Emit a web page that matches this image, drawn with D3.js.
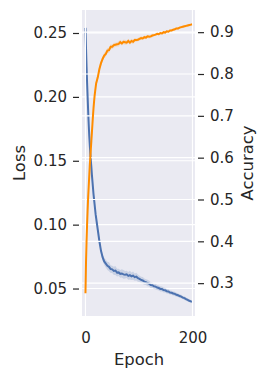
<!DOCTYPE html>
<html>
<head>
<meta charset="utf-8">
<script src="https://cdn.jsdelivr.net/npm/d3@7"></script>
<style>
  body { margin: 0; background: #fff; }
  svg text { font-family: "DejaVu Sans", sans-serif; fill: #262626; }
</style>
</head>
<body>
<div id="chart"></div>
<script>
// epochs sampled from the training log
const epochs = [0,1,2,3,4,5,6,7,8,9,10,11,12,13,14,15,16,17,18,19,20,
  23,26,29,32,35,38,41,44,47,50,53,56,59,62,65,68,71,74,77,80,83,86,89,92,95,98,
  101,104,107,110,113,116,119,122,125,128,131,134,137,140,143,146,149,152,155,158,
  161,164,167,170,173,176,179,182,185,188,191,194,197,199];

const loss = [0.254,0.238,0.224,0.211,0.200,0.189,0.179,0.170,0.163,0.156,0.150,0.145,0.139,0.134,0.129,0.124,0.120,0.116,0.112,0.108,0.105,
  0.096,0.087,0.0795,0.0745,0.0712,0.0695,0.0678,0.0670,0.0652,0.0650,0.0638,0.0641,0.0624,0.0626,0.0615,0.0618,0.0611,0.0608,0.0611,0.0599,0.0605,0.0596,0.0601,0.0589,0.0593,0.0582,
  0.0576,0.0567,0.0563,0.0554,0.0550,0.0543,0.0538,0.0527,0.0526,0.0517,0.0515,0.0508,0.0504,0.0497,0.0496,0.0488,0.0486,0.0479,0.0477,0.0469,
  0.0467,0.0461,0.0458,0.0451,0.0447,0.0441,0.0437,0.0429,0.0425,0.0417,0.0411,0.0404,0.0400,0.0396];

// half width of the shaded band around loss
const lossBand = [0.003,0.003,0.003,0.002,0.002,0.002,0.002,0.002,0.002,0.002,0.002,0.002,0.002,0.002,0.002,0.002,0.002,0.002,0.002,0.002,0.002,
  0.002,0.002,0.0022,0.0025,0.0028,0.003,0.0032,0.0035,0.003,0.0028,0.0032,0.0035,0.003,0.0028,0.003,0.0032,0.0035,0.003,0.0028,0.003,0.0034,0.003,0.0032,0.0028,0.003,0.0028,
  0.0025,0.0025,0.0027,0.0024,0.0022,0.0025,0.0022,0.0024,0.0022,0.0021,0.0023,0.002,0.0019,0.0021,0.0019,0.002,0.0018,0.0017,0.0018,0.0016,
  0.0016,0.0015,0.0016,0.0015,0.0014,0.0015,0.0014,0.0013,0.0014,0.0013,0.0012,0.0012,0.0011,0.001];

const accuracy = [0.276,0.35,0.40,0.44,0.475,0.505,0.53,0.555,0.58,0.60,0.62,0.64,0.66,0.68,0.70,0.718,0.733,0.747,0.758,0.768,0.778,
  0.792,0.812,0.826,0.836,0.844,0.848,0.856,0.857,0.865,0.865,0.869,0.870,0.871,0.872,0.876,0.873,0.877,0.876,0.875,0.879,0.875,0.879,0.877,0.881,0.881,0.882,
  0.884,0.886,0.885,0.888,0.887,0.890,0.889,0.890,0.892,0.893,0.894,0.896,0.895,0.898,0.897,0.900,0.899,0.902,0.901,0.904,
  0.904,0.906,0.907,0.909,0.909,0.911,0.912,0.913,0.914,0.915,0.916,0.917,0.918,0.919];

// half width of the shaded band around accuracy
const accBand = [0.026,0.02,0.018,0.016,0.014,0.013,0.012,0.012,0.011,0.011,0.01,0.01,0.01,0.01,0.01,0.009,0.009,0.009,0.008,0.008,0.008,
  0.008,0.007,0.007,0.007,0.006,0.007,0.006,0.006,0.006,0.005,0.006,0.005,0.005,0.006,0.005,0.005,0.005,0.006,0.005,0.005,0.005,0.005,0.005,0.005,0.004,0.004,
  0.004,0.004,0.004,0.004,0.004,0.004,0.004,0.004,0.004,0.003,0.003,0.003,0.003,0.003,0.003,0.003,0.003,0.003,0.003,0.003,
  0.003,0.003,0.003,0.003,0.003,0.003,0.003,0.003,0.003,0.003,0.003,0.003,0.003,0.003];

const xTicks = [0, 200];
const lossTicks = [0.05, 0.10, 0.15, 0.20, 0.25];
const accTicks = [0.3, 0.4, 0.5, 0.6, 0.7, 0.8, 0.9];

const W = 267, H = 379;
const margin = {top: 10, right: 72, bottom: 63, left: 82};
const w = W - margin.left - margin.right;
const h = H - margin.top - margin.bottom;

const blue = '#4c72b0';
const orange = '#ff8c00';

const svg = d3.select('#chart').append('svg')
    .attr('width', W)
    .attr('height', H);

const g = svg.append('g').attr('transform', `translate(${margin.left},${margin.top})`);

const x = d3.scaleLinear().domain([-6.5, 204.7]).range([0, w]);
const yL = d3.scaleLinear().domain([0.0285, 0.268]).range([h, 0]);
const yR = d3.scaleLinear().domain([0.2215, 0.953]).range([h, 0]);

const data = epochs.map((e, i) => ({e, loss: loss[i], lb: lossBand[i], acc: accuracy[i], ab: accBand[i]}));

g.append('rect').attr('width', w).attr('height', h).attr('fill', '#eaeaf2');

function grid(scale, ticks) {
    g.append('g').selectAll('line').data(ticks).enter().append('line')
        .attr('x1', 0).attr('x2', w)
        .attr('y1', d => scale(d)).attr('y2', d => scale(d))
        .attr('stroke', '#fff').attr('stroke-width', 1.1);
    g.append('g').selectAll('line').data(xTicks).enter().append('line')
        .attr('x1', d => x(d)).attr('x2', d => x(d))
        .attr('y1', 0).attr('y2', h)
        .attr('stroke', '#fff').attr('stroke-width', 1.1);
}

// first axes: loss
grid(yL, lossTicks);
g.append('path').datum(data)
    .attr('fill', blue).attr('fill-opacity', 0.2)
    .attr('d', d3.area().x(d => x(d.e)).y0(d => yL(d.loss - d.lb)).y1(d => yL(d.loss + d.lb)));
g.append('path').datum(data)
    .attr('fill', 'none').attr('stroke', blue).attr('stroke-width', 2)
    .attr('d', d3.line().x(d => x(d.e)).y(d => yL(d.loss)));

// twin axes: accuracy (its grid sits on top of the loss line)
grid(yR, accTicks);
g.append('path').datum(data)
    .attr('fill', orange).attr('fill-opacity', 0.2)
    .attr('d', d3.area().x(d => x(d.e)).y0(d => yR(d.acc - d.ab)).y1(d => yR(d.acc + d.ab)));
g.append('path').datum(data)
    .attr('fill', 'none').attr('stroke', orange).attr('stroke-width', 2)
    .attr('d', d3.line().x(d => x(d.e)).y(d => yR(d.acc)));

// axes
const tickFs = '15px', labelFs = '16.4px';
const left = g.append('g').call(d3.axisLeft(yL).tickValues(lossTicks).tickFormat(d3.format('.2f')).tickSize(6).tickPadding(6))
    .attr('transform', 'translate(-3,0)');
const right = g.append('g').attr('transform', `translate(${w + 3},0)`)
    .call(d3.axisRight(yR).tickValues(accTicks).tickFormat(d3.format('.1f')).tickSize(6).tickPadding(6));
const bottom = g.append('g').attr('transform', `translate(0,${h})`)
    .call(d3.axisBottom(x).tickValues(xTicks).tickSize(0).tickPadding(16));

[left, right, bottom].forEach(a => {
    a.select('.domain').remove();
    a.selectAll('.tick line').attr('stroke', '#262626').attr('stroke-width', 1.2);
    a.selectAll('text').attr('font-size', tickFs).attr('fill', '#262626')
        .style('font-family', '"DejaVu Sans", sans-serif');
});

svg.append('text').text('Loss')
    .attr('transform', `translate(25,${margin.top + h / 2}) rotate(-90)`)
    .attr('text-anchor', 'middle').attr('font-size', labelFs);
svg.append('text').text('Accuracy')
    .attr('transform', `translate(253,${margin.top + h / 2}) rotate(-90)`)
    .attr('text-anchor', 'middle').attr('font-size', labelFs);
svg.append('text').text('Epoch')
    .attr('x', margin.left + x(100)).attr('y', 365)
    .attr('text-anchor', 'middle').attr('font-size', labelFs);
</script>
</body>
</html>
